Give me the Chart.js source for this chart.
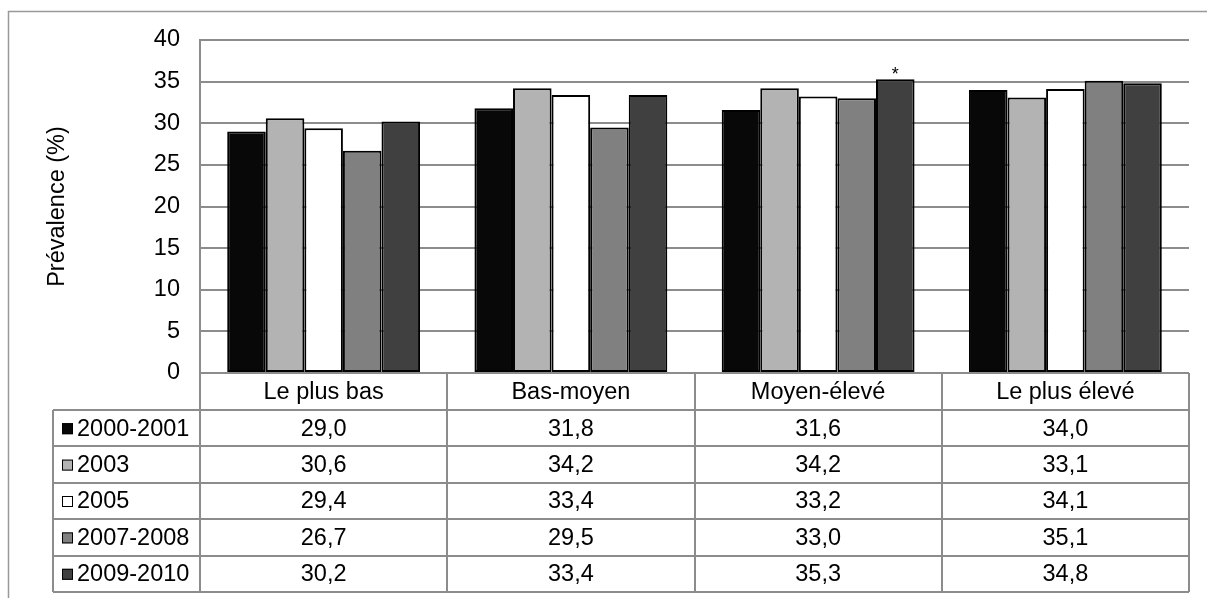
<!DOCTYPE html>
<html>
<head>
<meta charset="utf-8">
<script src="https://cdn.jsdelivr.net/npm/chart.js@4"></script>
<style>
  html, body { margin: 0; padding: 0; background: #fff; }
  #wrap { width: 1207px; height: 598px; }
</style>
</head>
<body>
<div id="wrap"><canvas id="prevChart" width="1207" height="598"></canvas></div>
<script>
// données
const categories = ["Le plus bas", "Bas-moyen", "Moyen-élevé", "Le plus élevé"];
const periods = ["2000-2001", "2003", "2005", "2007-2008", "2009-2010"];
const v2000 = [29.0, 31.8, 31.6, 34.0];
const v2003 = [30.6, 34.2, 34.2, 33.1];
const v2005 = [29.4, 33.4, 33.2, 34.1];
const v2007 = [26.7, 29.5, 33.0, 35.1];
const v2009 = [30.2, 33.4, 35.3, 34.8];
const yTicks = [0, 5, 10, 15, 20, 25, 30, 35, 40];
// astérisque : [série, catégorie]
const starred = [[4, 2]];

const fills = ["#080808", "#b3b3b3", "#ffffff", "#808080", "#404040"];
const lineGray = "#8c8c8c";
const FONT = "'Liberation Sans', Arial, sans-serif";
const FS = 23.5;

const seriesValues = [v2000, v2003, v2005, v2007, v2009];

// draws the outer frame, the data table under the plot and the asterisk
const tablePlugin = {
    id: "dataTable",
    afterDraw(chart) {
        const ctx = chart.ctx;
        const area = chart.chartArea;
        const n = categories.length;
        const colW = (area.right - area.left) / n;
        const legendLeft = 53;
        const headerH = 37;
        const rowH = 36.4;
        const top = area.bottom;
        const bottom = top + headerH + rowH * periods.length;

        ctx.save();
        // cadre extérieur
        ctx.strokeStyle = "#999";
        ctx.lineWidth = 1.5;
        ctx.beginPath();
        ctx.moveTo(8.5, 598);
        ctx.lineTo(8.5, 11.5);
        ctx.lineTo(1207, 11.5);
        ctx.stroke();

        ctx.strokeStyle = lineGray;
        ctx.lineWidth = 2;
        ctx.beginPath();
        // lignes horizontales
        ctx.moveTo(area.left, top);
        ctx.lineTo(area.right, top);
        for (let r = 0; r <= periods.length; r++) {
            const y = Math.round(top + headerH + r * rowH);
            ctx.moveTo(legendLeft, y);
            ctx.lineTo(area.right, y);
        }
        // lignes verticales
        ctx.moveTo(legendLeft, top + headerH);
        ctx.lineTo(legendLeft, bottom);
        ctx.moveTo(area.left, area.bottom);
        ctx.lineTo(area.left, bottom);
        for (let i = 1; i <= n; i++) {
            const x = Math.round(area.left + i * colW);
            ctx.moveTo(x, top);
            ctx.lineTo(x, bottom);
        }
        ctx.stroke();

        ctx.fillStyle = "#000";
        ctx.font = FS + "px " + FONT;
        ctx.textBaseline = "middle";
        ctx.textAlign = "center";
        categories.forEach((c, i) => {
            ctx.fillText(c, area.left + (i + 0.5) * colW, top + headerH / 2 + 1);
        });
        periods.forEach((p, r) => {
            const yc = top + headerH + (r + 0.5) * rowH + 1;
            ctx.textAlign = "center";
            ctx.fillStyle = "#000";
            seriesValues[r].forEach((v, i) => {
                ctx.fillText(v.toFixed(1).replace(".", ","), area.left + (i + 0.5) * colW, yc);
            });
            // pastille de légende
            ctx.fillStyle = fills[r];
            ctx.fillRect(62, yc - 6, 11, 11);
            ctx.strokeStyle = "#000";
            ctx.lineWidth = 1;
            ctx.strokeRect(62.5, yc - 5.5, 10, 10);
            ctx.fillStyle = "#000";
            ctx.textAlign = "left";
            ctx.fillText(p, 77, yc);
        });

        // astérisque
        ctx.font = "18px " + FONT;
        ctx.textAlign = "center";
        ctx.textBaseline = "alphabetic";
        starred.forEach(([ds, idx]) => {
            const bar = chart.getDatasetMeta(ds).data[idx];
            ctx.fillText("*", bar.x, bar.y + 1);
        });
        ctx.restore();
    }
};

document.addEventListener("DOMContentLoaded", function () {
    const ctx = document.getElementById("prevChart").getContext("2d");

    window.prevChart = new Chart(ctx, {
        type: "bar",
        data: {
            labels: categories,
            datasets: periods.map((p, i) => ({
                label: p,
                data: seriesValues[i],
                backgroundColor: fills[i],
                borderColor: "#000",
                borderWidth: 2,
                borderSkipped: false,
                categoryPercentage: 0.78,
                barPercentage: 1.0
            }))
        },
        options: {
            responsive: false,
            animation: false,
            devicePixelRatio: 1,
            layout: { padding: { left: 8, top: 40, right: 18, bottom: 225 } },
            scales: {
                x: { display: false },
                y: {
                    min: 0,
                    max: 40,
                    afterFit: (scale) => { scale.width = 192; },
                    afterBuildTicks: (scale) => { scale.ticks = yTicks.map(v => ({ value: v })); },
                    ticks: {
                        color: "#000",
                        padding: 20,
                        font: { family: FONT, size: FS }
                    },
                    grid: { color: lineGray, lineWidth: 2, drawTicks: false },
                    border: { display: true, color: lineGray, width: 2 },
                    title: {
                        display: true,
                        text: "Prévalence (%)",
                        color: "#000",
                        padding: { top: 35, bottom: 0 },
                        font: { family: FONT, size: FS }
                    }
                }
            },
            plugins: {
                legend: { display: false },
                tooltip: { enabled: false }
            }
        },
        plugins: [tablePlugin]
    });
});
</script>
</body>
</html>
